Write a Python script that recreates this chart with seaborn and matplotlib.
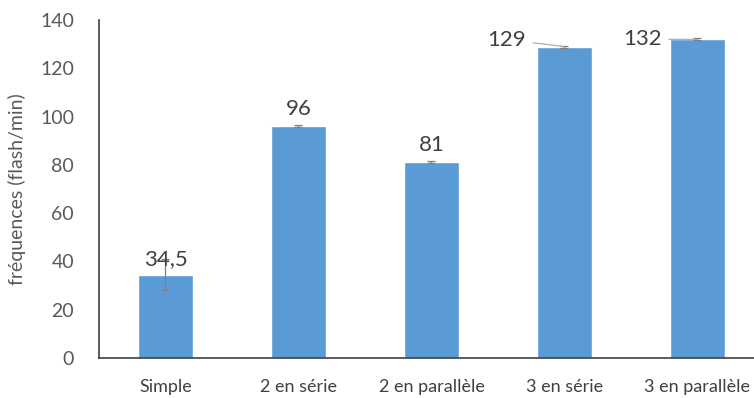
import pandas as pd
import seaborn as sns
import matplotlib.pyplot as plt

# données
categories = ["Simple", "2 en série", "2 en parallèle", "3 en série", "3 en parallèle"]
frequences = [34.5, 96, 81, 129, 132]
erreurs = [6.5, 0.4, 0.4, 0.4, 0.4]
etiquettes = ["34,5", "96", "81", "129", "132"]

sns.set_theme(style="white")
plt.rcParams["font.family"] = ["Lato", "DejaVu Sans"]

df = pd.DataFrame({"cat": categories, "freq": frequences})

fig = plt.figure(figsize=(7.54, 3.98), dpi=100)
ax = fig.add_axes([99 / 754, 40 / 398, 665 / 754, 338 / 398])

sns.barplot(data=df, x="cat", y="freq", color="#5B9BD5", saturation=1,
            width=0.41, errorbar=None, ax=ax)
ax.errorbar(range(len(categories)), frequences, yerr=erreurs, fmt="none",
            ecolor="#7f7f7f", elinewidth=0.9, capsize=3, capthick=0.9)

# étiquettes de données (les deux dernières décalées avec une ligne de rappel)
decalages = [(0, 4), (0, 5), (0, 5), (-28, 5), (-26, 0)]
for i, (v, lab) in enumerate(zip(frequences, etiquettes)):
    dx, dy = decalages[i]
    if dx == 0:
        ax.annotate(lab, (i, v), xytext=(dx, dy), textcoords="offset points",
                    ha="center", va="bottom", fontsize=16, color="#404040")
    else:
        ax.annotate(lab, (i, v), xytext=(dx, dy), textcoords="offset points",
                    ha="right", va="center", fontsize=16, color="#404040",
                    arrowprops=dict(arrowstyle="-", color="#a6a6a6", lw=0.8,
                                    shrinkA=3, shrinkB=0))

ax.set_ylim(0, 140)
ax.set_yticks(range(0, 141, 20))
ax.set_xlim(-0.5, 4.5)
ax.set_xlabel("")
ax.set_ylabel("fréquences (flash/min)", fontsize=14, color="#595959", labelpad=10)
ax.tick_params(axis="y", labelsize=14, labelcolor="#595959", length=0, pad=18)
ax.tick_params(axis="x", labelsize=13, labelcolor="#404040", length=0, pad=15)

for s in ["top", "right"]:
    ax.spines[s].set_visible(False)
for s in ["left", "bottom"]:
    ax.spines[s].set_color("#404040")
    ax.spines[s].set_linewidth(1.2)

fig.savefig("out.png", dpi=100)
